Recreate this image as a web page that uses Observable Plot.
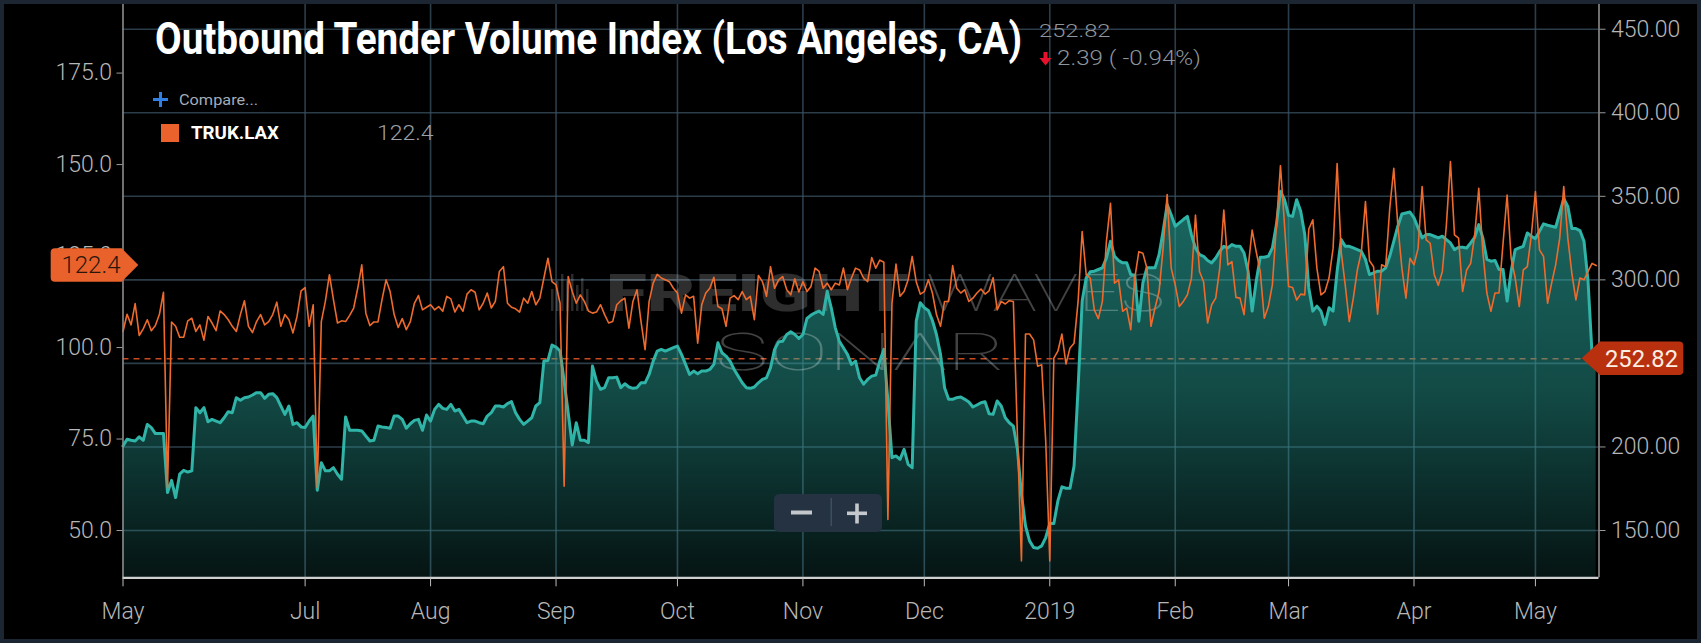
<!DOCTYPE html>
<html>
<head>
<meta charset="utf-8">
<script src="https://cdn.jsdelivr.net/npm/d3@7"></script>
<script src="https://cdn.jsdelivr.net/npm/@observablehq/plot@0.6"></script>
<style>
html,body{margin:0;padding:0;background:#000;}
#wrap{position:relative;width:1701px;height:643px;background:#000;overflow:hidden;}
#chart{position:absolute;left:0;top:0;}
#over{position:absolute;left:0;top:0;pointer-events:none;}
</style>
</head>
<body>
<div id="wrap"><div id="chart"></div></div>
<script>
// ---------- DATA ----------
const startDate = [2018, 4, 17]; // 17 May 2018, one value per day
// TRUK.LAX (left axis)
const trukValues = [
104.4,109.1,106.2,112.0,103.3,105.1,107.6,104.6,106.0,109.1,
115.1,61.7,107.0,105.8,102.8,102.8,107.3,108.0,104.4,106.2,
102.0,108.5,106.7,104.6,110.0,109.0,107.6,105.8,104.4,109.0,
112.8,105.8,104.1,107.1,109.0,106.2,107.1,109.0,112.4,105.8,
109.0,107.6,104.0,108.5,115.5,116.4,105.8,111.7,61.7,107.1,
112.6,119.9,113.1,106.7,107.3,107.1,108.8,110.8,116.2,122.6,
109.4,106.0,107.0,107.0,113.1,118.5,115.3,109.0,105.5,107.9,
104.9,107.1,112.1,114.2,110.3,111.0,111.7,110.3,111.2,109.9,
114.0,113.3,109.7,111.7,109.9,114.6,115.8,115.1,110.3,112.1,
114.9,110.8,112.6,
120.8,122.1,112.1,111.0,110.6,109.7,113.5,112.1,115.3,111.7,
113.5,119.0,124.4,118.0,117.1,112.1,62.1,119.4,115.3,112.1,
114.4,112.6,110.0,109.4,109.7,111.7,109.0,106.7,107.1,111.7,
112.8,113.5,105.3,112.6,115.8,107.1,99.4,112.6,117.6,120.0,
119.0,118.5,118.0,116.2,114.9,109.4,114.4,113.5,114.0,101.2,
111.7,114.9,116.2,119.2,111.2,110.6,105.8,113.5,114.2,113.1,
115.3,113.1,114.0,107.6,119.7,118.0,114.0,122.1,116.2,118.5,
119.4,115.8,114.4,118.8,115.2,118.0,115.3,116.7,121.7,120.8,
116.2,117.6,115.8,117.6,117.1,121.7,115.8,119.0,121.7,121.2,
119.0,118.0,
124.6,121.7,123.9,123.3,53.0,112.0,122.8,114.0,115.3,118.5,
124.9,118.0,114.6,115.3,118.5,114.9,109.0,105.8,112.6,112.6,
122.4,116.2,114.9,115.8,112.6,113.5,114.9,116.0,114.6,115.5,
119.1,110.3,112.6,111.9,112.8,112.6,76.2,41.7,103.7,103.7,
102.1,94.9,95.3,74.4,41.7,97.1,99.0,103.7,95.5,99.9,
101.2,112.6,131.7,119.9,119.0,110.3,107.9,112.6,129.0,139.4,
117.6,118.5,109.9,110.8,104.9,118.9,126.2,125.8,121.7,105.8,
110.8,115.3,127.1,141.8,121.7,117.1,111.2,112.6,114.4,118.9,
136.2,120.8,118.0,106.7,111.7,113.5,121.7,137.6,122.6,123.5,
113.7,113.5,
109.0,121.7,132.1,126.2,120.8,108.0,111.2,117.1,133.5,149.7,
133.5,116.7,116.4,113.0,114.6,114.4,132.4,134.9,121.7,114.4,
115.3,119.0,127.1,150.3,126.2,117.1,107.1,113.5,121.2,126.2,
139.9,123.7,122.1,109.1,122.6,122.1,138.0,149.0,133.5,121.7,
113.5,124.4,122.6,127.1,144.0,129.4,128.5,119.9,117.0,120.8,
133.5,150.8,130.8,129.9,115.3,121.2,123.0,130.8,143.5,126.2,
114.9,109.9,114.9,114.9,128.5,141.7,124.4,119.0,111.2,121.2,
122.1,130.8,142.6,126.7,124.9,112.1,117.6,122.6,129.9,144.0,
129.9,120.3,113.0,119.0,118.5,120.8,123.0,122.4
];
// Outbound Tender Volume Index, Los Angeles (right axis)
const otviValues = [
200.6,204.6,204.0,203.6,206.0,204.0,213.5,211.6,208.0,208.0,
208.0,172.7,180.0,169.7,183.7,186.0,185.0,185.7,223.5,220.5,
223.5,215.1,216.5,215.5,214.5,217.5,221.1,220.5,229.5,227.9,
229.5,229.9,231.1,232.5,232.5,229.1,231.5,231.9,229.5,224.5,
219.5,224.5,213.5,214.5,212.0,211.6,215.5,218.5,174.1,190.6,
185.7,185.7,187.6,183.7,180.7,217.9,210.0,210.0,210.0,209.6,
206.6,203.6,204.0,212.5,212.0,211.6,211.2,218.5,218.5,216.5,
211.2,213.9,215.9,216.5,210.0,219.1,215.5,222.5,225.5,223.1,
222.5,225.5,221.5,222.5,218.5,214.5,215.5,215.5,214.5,213.9,
218.5,220.5,224.5,
224.5,223.9,225.9,227.1,220.5,216.5,213.5,215.5,217.5,224.5,
226.5,251.4,251.8,261.0,259.8,257.4,239.4,220.5,201.2,214.5,
204.0,204.0,202.6,248.4,239.4,234.5,235.5,241.4,241.4,241.8,
235.5,237.8,235.9,235.1,235.5,238.4,238.4,243.4,251.4,257.4,
258.4,257.4,258.4,259.4,260.4,255.4,249.4,243.4,245.4,243.8,
245.4,245.4,246.4,249.4,262.4,256.4,254.4,251.4,246.4,242.4,
238.4,235.5,235.1,235.9,238.4,240.4,241.4,247.4,258.4,262.9,
263.3,267.3,268.9,267.3,264.9,267.3,276.9,278.9,280.3,281.3,
279.3,293.2,283.3,271.3,263.3,259.4,255.4,249.4,251.4,241.4,
237.6,240.4,
242.4,243.0,251.4,258.4,227.5,193.6,194.6,192.6,198.6,189.6,
187.6,275.3,286.3,283.3,281.7,275.7,267.3,255.4,235.5,228.5,
228.5,229.5,229.9,228.5,226.9,223.9,225.1,226.5,227.1,219.9,
219.5,227.5,224.5,217.5,214.5,212.5,198.6,171.7,152.8,143.8,
139.8,139.4,140.8,145.8,154.2,154.2,167.7,176.1,175.3,175.3,
188.6,235.5,287.3,301.2,304.8,305.2,306.2,307.2,313.1,323.1,
314.1,311.6,310.2,310.2,303.2,302.8,275.3,298.2,307.2,307.2,
307.2,315.1,329.1,345.0,339.0,332.1,334.1,336.1,338.0,327.1,
319.1,315.1,314.1,311.6,310.2,313.1,317.1,320.1,319.1,321.1,
320.1,320.1,
316.1,305.2,281.3,299.2,313.5,313.5,314.1,319.1,333.1,353.0,
348.0,338.6,338.0,348.0,341.0,327.1,295.2,281.3,284.3,281.3,
273.3,283.3,281.3,305.2,324.1,320.1,320.1,319.1,318.1,317.1,
312.2,303.2,304.2,305.2,305.2,307.2,314.1,323.1,332.1,339.4,
340.0,340.6,337.1,331.1,325.1,327.1,327.1,326.1,325.1,326.1,
324.1,322.1,318.1,319.5,319.5,319.1,322.1,325.5,333.1,325.1,
312.2,311.2,311.6,306.2,306.2,287.3,305.2,318.1,319.1,320.1,
328.1,326.1,324.7,329.1,333.5,332.7,332.1,331.5,340.0,348.6,
344.0,330.7,330.7,329.5,323.1,299.2,255.2,252.82
];
const xTickDates = ["2018-05-17","2018-07-01","2018-08-01","2018-09-01","2018-10-01","2018-11-01","2018-12-01","2019-01-01","2019-02-01","2019-03-01","2019-04-01","2019-05-01"];
const xTickLabels = ["May","Jul","Aug","Sep","Oct","Nov","Dec","2019","Feb","Mar","Apr","May"];
const leftTicks = [50, 75, 100, 125, 150, 175];
const rightTicks = [150, 200, 250, 300, 350, 400, 450];
const hiddenRightLabels = [250]; // covered by the last-value tag in the reference
const lastTruk = 122.4;
const lastOtvi = 252.82;
const changeText = "2.39 ( -0.94%)";
const seriesName = "TRUK.LAX";
const titleText = "Outbound Tender Volume Index (Los Angeles, CA)";

// ---------- SCALES ----------
const yLo = 121.7, yHi = 464.8;            // right-axis domain
const leftBase = 50, rightBase = 150, leftK = 2.19; // left axis aligned onto right scale
const toRight = L => rightBase + (L - leftBase) * leftK;
const toLeft = R => (R - rightBase) / leftK + leftBase;
const x0 = new Date(Date.UTC(2018, 4, 17));
const x1 = new Date(Date.UTC(2019, 4, 16, 17));

const rows = trukValues.map((v, i) => ({
  date: new Date(Date.UTC(startDate[0], startDate[1], startDate[2] + i)),
  truk: v,
  otvi: otviValues[i]
}));
const tickDates = xTickDates.map(s => new Date(s + "T00:00:00Z"));
const labelByTime = new Map(tickDates.map((d, i) => [+d, xTickLabels[i]]));

// gradient defs
function defsMark() {
  const defs = d3.create("svg:defs");
  const g = defs.append("linearGradient").attr("id", "otviGrad")
    .attr("gradientUnits", "userSpaceOnUse").attr("x1", 0).attr("x2", 0).attr("y1", 190).attr("y2", 577);
  g.append("stop").attr("offset", 0).attr("stop-color", "#2aa89e").attr("stop-opacity", 0.62);
  g.append("stop").attr("offset", 0.52).attr("stop-color", "#2aa89e").attr("stop-opacity", 0.44);
  g.append("stop").attr("offset", 1).attr("stop-color", "#2aa89e").attr("stop-opacity", 0.12);
  return defs.node();
}

// watermark
function watermarkMark() {
  const g = d3.create("svg:g").attr("font-family", "Roboto, 'Noto Sans', sans-serif").attr("text-anchor", "start");
  const bars = [[551, 22], [556, 30], [561, 37], [566, 30], [571, 37], [576, 26], [581, 33], [586, 22]];
  bars.forEach(([bx, h]) => g.append("rect").attr("x", bx).attr("y", 311 - h).attr("width", 2.5).attr("height", h)
    .attr("fill", "#fff").attr("fill-opacity", 0.17));
  g.append("text").attr("x", 606).attr("y", 311).attr("font-size", 52).attr("font-weight", 900)
    .attr("fill", "#fff").attr("fill-opacity", 0.18).attr("textLength", 303).attr("lengthAdjust", "spacingAndGlyphs").text("FREIGHT");
  g.append("text").attr("x", 926).attr("y", 311).attr("font-size", 52).attr("font-weight", 100)
    .attr("fill", "#fff").attr("fill-opacity", 0.26).attr("textLength", 239).attr("lengthAdjust", "spacingAndGlyphs").text("WAVES");
  g.append("text").attr("x", 715).attr("y", 370).attr("font-size", 52).attr("font-weight", 100)
    .attr("fill", "#fff").attr("fill-opacity", 0.26).attr("textLength", 291).attr("lengthAdjust", "spacingAndGlyphs").text("SONAR");
  return g.node();
}

// last-value tags
function tagsMark(index, scales) {
  const ys = (scales && scales.y) ? scales.y : d3.scaleLinear([yLo, yHi], [577.3, 4]);
  const g = d3.create("svg:g").attr("font-family", "Roboto, 'Noto Sans', sans-serif");
  const yl = ys(toRight(lastTruk));
  const h = 16.7;
  g.append("path").attr("fill", "#e9622b")
    .attr("d", `M55,${yl - h} H121.7 L138.3,${yl} L121.7,${yl + h} H55 Q50.7,${yl + h} 50.7,${yl + h - 4} V${yl - h + 4} Q50.7,${yl - h} 55,${yl - h} Z`);
  g.append("text").attr("x", 91).attr("y", yl).attr("dy", "0.36em").attr("text-anchor", "middle")
    .attr("font-size", 23).attr("font-weight", 300).attr("fill", "#2a160c")
    .attr("textLength", 59).attr("lengthAdjust", "spacingAndGlyphs").text(lastTruk.toFixed(1));
  const yr = ys(lastOtvi);
  g.append("path").attr("fill", "#b9300f")
    .attr("d", `M1581.7,${yr} L1600,${yr - h} H1679 Q1683.3,${yr - h} 1683.3,${yr - h + 4} V${yr + h - 4} Q1683.3,${yr + h} 1679,${yr + h} H1600 Z`);
  g.append("text").attr("x", 1641.5).attr("y", yr).attr("dy", "0.36em").attr("text-anchor", "middle")
    .attr("font-size", 24).attr("font-weight", 400).attr("fill", "#fbeee2")
    .attr("textLength", 73).attr("lengthAdjust", "spacingAndGlyphs").text(lastOtvi.toFixed(2));
  return g.node();
}

const gridColor = "#3b5263";
const plot = Plot.plot({
  width: 1701, height: 643,
  marginLeft: 122.5, marginRight: 102.5, marginTop: 4, marginBottom: 65.7,
  style: {background: "transparent", color: "#b7b7b7", fontFamily: "Roboto, 'Noto Sans', sans-serif", fontSize: "23px", fontWeight: 300},
  x: {type: "utc", domain: [x0, x1]},
  y: {domain: [yLo, yHi]},
  marks: [
    defsMark,
    Plot.ruleY(rightTicks, {stroke: gridColor, strokeWidth: 1.6, strokeOpacity: 0.75}),
    Plot.ruleX(tickDates.slice(1), {stroke: gridColor, strokeWidth: 1.6, strokeOpacity: 0.75}),
    Plot.ruleY([lastOtvi], {stroke: "#c84a22", strokeWidth: 1.6, strokeDasharray: "6,5"}),
    Plot.areaY(rows, {x: "date", y1: yLo, y2: "otvi", fill: "url(#otviGrad)", curve: "linear"}),
    watermarkMark,
    Plot.line(rows, {x: "date", y: "otvi", stroke: "#2fb4a7", strokeWidth: 3}),
    Plot.line(rows, {x: "date", y: d => toRight(d.truk), stroke: "#ee6b2d", strokeWidth: 1.6}),
    Plot.ruleX([x0], {stroke: "#8c8c8c", strokeWidth: 1.6}),
    Plot.ruleX([x1], {stroke: "#8c8c8c", strokeWidth: 1.6}),
    Plot.ruleY([yLo], {stroke: "#cfcfcf", strokeWidth: 2.2}),
    Plot.axisX({ticks: tickDates, tickFormat: d => labelByTime.get(+d) ?? "", tickSize: 9, tickPadding: 16, label: null, stroke: "#bdbdbd"}),
    Plot.axisY({anchor: "left", ticks: leftTicks.map(toRight), tickFormat: v => (Math.round(toLeft(v) * 10) / 10).toFixed(1), tickSize: 6, tickPadding: 5, label: null, stroke: "#9a9a9a"}),
    Plot.axisY({anchor: "right", ticks: rightTicks, tickFormat: v => hiddenRightLabels.includes(v) ? "" : v.toFixed(2), tickSize: 6, tickPadding: 6, label: null, stroke: "#9a9a9a"}),
    tagsMark
  ]
});
document.getElementById("chart").appendChild(plot);

// ---------- OVERLAY TEXT (title, legend, controls) ----------
const ov = d3.select("#wrap").append("svg").attr("id", "over").attr("width", 1701).attr("height", 643)
  .attr("font-family", "Roboto, 'Noto Sans', sans-serif");
ov.append("text").attr("x", 155).attr("y", 54.3).attr("font-size", 43.6).attr("font-weight", 700).attr("fill", "#fff")
  .attr("textLength", 867).attr("lengthAdjust", "spacingAndGlyphs").text(titleText);
ov.append("text").attr("x", 1039).attr("y", 37.3).attr("font-size", 18).attr("font-weight", 300).attr("fill", "#8f959c")
  .attr("textLength", 71.5).attr("lengthAdjust", "spacingAndGlyphs").text(lastOtvi.toFixed(2));
ov.append("path").attr("fill", "#e8112d").attr("d", "M1043.5,52 H1047.5 V58 H1051.5 L1045.5,65.5 L1039.5,58 H1043.5 Z");
ov.append("text").attr("x", 1057).attr("y", 65).attr("font-size", 21).attr("font-weight", 300).attr("fill", "#8f959c")
  .attr("textLength", 144).attr("lengthAdjust", "spacingAndGlyphs").text(changeText);
// compare
ov.append("rect").attr("x", 153).attr("y", 98).attr("width", 15).attr("height", 3).attr("fill", "#2f7fe6");
ov.append("rect").attr("x", 159).attr("y", 92).attr("width", 3).attr("height", 15).attr("fill", "#2f7fe6");
ov.append("text").attr("x", 179).attr("y", 105).attr("font-size", 15.5).attr("font-weight", 400).attr("fill", "#a3adb8")
  .attr("textLength", 79).attr("lengthAdjust", "spacingAndGlyphs").text("Compare...");
// legend
ov.append("rect").attr("x", 161).attr("y", 124).attr("width", 18).attr("height", 18).attr("fill", "#ec622c");
ov.append("text").attr("x", 191).attr("y", 138.5).attr("font-size", 18.5).attr("font-weight", 700).attr("fill", "#fff")
  .attr("textLength", 88).attr("lengthAdjust", "spacingAndGlyphs").text(seriesName);
ov.append("text").attr("x", 377).attr("y", 140).attr("font-size", 20).attr("font-weight", 300).attr("fill", "#9ba2aa")
  .attr("textLength", 56.5).attr("lengthAdjust", "spacingAndGlyphs").text(lastTruk.toFixed(1));
// zoom control
ov.append("rect").attr("x", 774).attr("y", 494).attr("width", 108).attr("height", 38).attr("rx", 5).attr("fill", "#243241");
ov.append("rect").attr("x", 791).attr("y", 510.5).attr("width", 21).attr("height", 4).attr("fill", "#c4c8cc");
ov.append("rect").attr("x", 830.5).attr("y", 498).attr("width", 1.5).attr("height", 28).attr("fill", "#3f4e5c");
ov.append("rect").attr("x", 847).attr("y", 511.5).attr("width", 20).attr("height", 3.6).attr("fill", "#c4c8cc");
ov.append("rect").attr("x", 855.2).attr("y", 503.5).attr("width", 3.6).attr("height", 20).attr("fill", "#c4c8cc");
// frame border
ov.append("rect").attr("x", 2).attr("y", 2).attr("width", 1697).attr("height", 639).attr("fill", "none")
  .attr("stroke", "#1c2632").attr("stroke-width", 4);
</script>
</body>
</html>
